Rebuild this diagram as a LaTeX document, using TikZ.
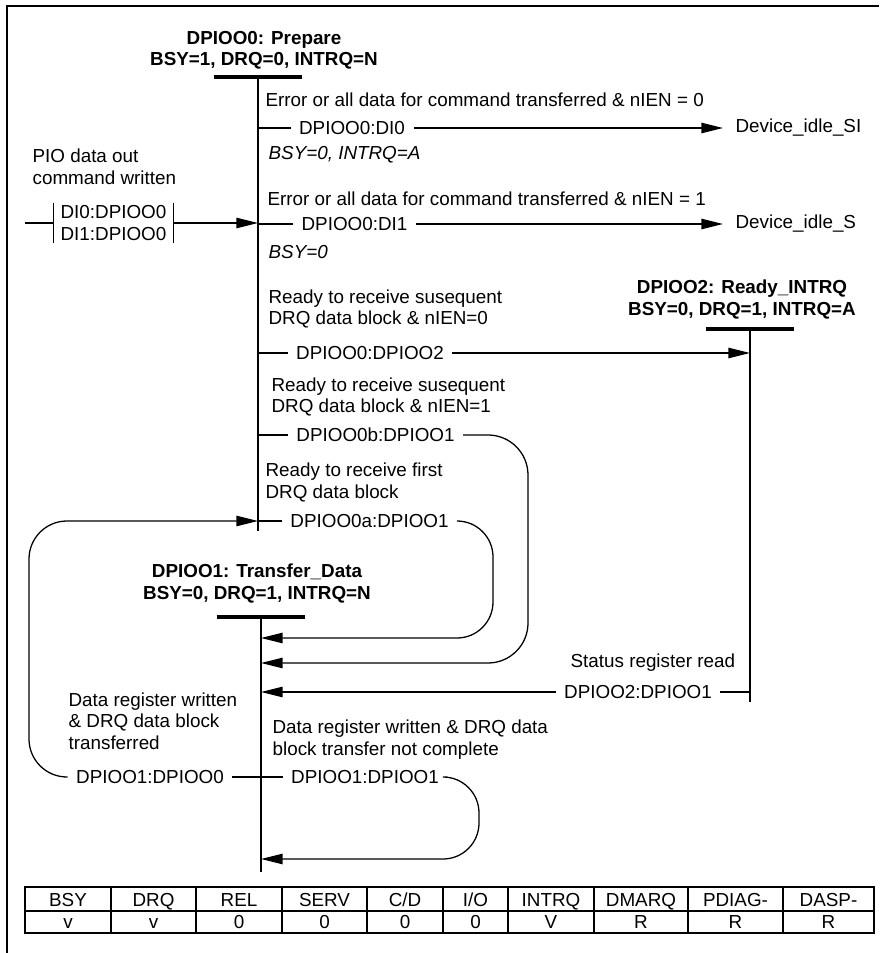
\documentclass[tikz,border=0pt]{standalone}
\usepackage{fontspec}
\setmainfont{Liberation Sans}
\usepackage{tikz}
\usetikzlibrary{arrows.meta,positioning}

\newcommand{\diagfont}{\fontsize{13.4}{15.3}\selectfont}

\begin{document}
\begin{tikzpicture}[>={Triangle[length=5.4mm,width=2.6mm]}, line width=0.9pt,
    state/.style={font=\diagfont\bfseries, align=center, inner sep=0},
    cond/.style={font=\diagfont, align=left, inner sep=0, anchor=west},
    tr/.style={font=\diagfont, inner xsep=0.2cm, inner ysep=0},
    bar/.style={line width=2.8pt}]
  \useasboundingbox (0,0) rectangle (21.975,-23.825);
  \draw[line width=1.2pt] (0.175,-23.825) -- (0.175,-0.15) -- (21.975,-0.15);

  % states
  \coordinate (p0) at (6.45,-1.925);
  \coordinate (p1) at (6.525,-15.425);
  \coordinate (p2) at (18.75,-8.225);
  \coordinate (p0e) at (6.45,-13.275);
  \coordinate (p1e) at (6.525,-21.8);
  \coordinate (p2e) at (18.75,-17.55);
  \node (prep) [state, above=0.175cm of p0, xshift=0.15cm] {DPIOO0: Prepare\\BSY=1, DRQ=0, INTRQ=N};
  \node (xfer) [state, above=0.34cm of p1, xshift=-0.1cm] {DPIOO1: Transfer\_Data\\BSY=0, DRQ=1, INTRQ=N};
  \node (rdyq) [state, above=0.24cm of p2, xshift=-0.2cm] {DPIOO2: Ready\_INTRQ\\BSY=0, DRQ=1, INTRQ=A};
  \draw[bar] ([xshift=-1.11cm]p0) -- ([xshift=1.11cm]p0);
  \draw[bar] ([xshift=-1.11cm]p1) -- ([xshift=1.11cm]p1);
  \draw[bar] ([xshift=-1.11cm]p2) -- ([xshift=1.11cm]p2);
  \draw (p0) -- (p0e);
  \draw (p1) -- (p1e);
  \draw (p2) -- (p2e);

  % entry
  \node (pio) [cond] at (0.8,-4.175) {PIO data out\\command written};
  \node (di) [font=\diagfont, align=center, inner sep=0, minimum width=2.975cm, minimum height=0.975cm] at (2.8375,-5.575) {DI0:DPIOO0\\DI1:DPIOO0};
  \coordinate (pin) at (0.625,-5.575);
  \draw (pin) -- (di.west);
  \draw (di.north west) -- (di.south west);
  \draw (di.north east) -- (di.south east);
  \draw[->] (di.east) -- (di.east -| p0);

  % DPIOO0 out
  \node (c1) [cond] at (6.625,-2.5) {Error or all data for command transferred \& nIEN = 0};
  \node (t0i0) [tr] at (8.8,-3.2) {DPIOO0:DI0};
  \node (idleSI) [cond] at (18.375,-3.2) {Device\_idle\_SI};
  \node (e1) [cond, font=\diagfont\itshape] at (6.7,-3.875) {BSY=0, INTRQ=A};
  \draw (t0i0 -| p0) -- (t0i0.west);
  \draw[->] (t0i0.east) -- ([xshift=-0.3cm]idleSI.west);

  \node (c2) [cond] at (6.675,-4.975) {Error or all data for command transferred \& nIEN = 1};
  \node (t0i1) [tr] at (8.8625,-5.6) {DPIOO0:DI1};
  \node (idleS) [cond] at (18.375,-5.6) {Device\_idle\_S};
  \node (e2) [cond, font=\diagfont\itshape] at (6.7,-6.3) {BSY=0};
  \draw (t0i1 -| p0) -- (t0i1.west);
  \draw[->] (t0i1.east) -- ([xshift=-0.3cm]idleS.west);

  \node (c3) [cond] at (6.7,-7.725) {Ready to receive susequent\\DRQ data block \& nIEN=0};
  \node (t02) [tr] at (9.25,-8.825) {DPIOO0:DPIOO2};
  \draw (t02 -| p0) -- (t02.west);
  \draw[->] (t02.east) -- (t02 -| p2);

  \node (c4) [cond] at (6.775,-9.925) {Ready to receive susequent\\DRQ data block \& nIEN=1};
  \node (t0b) [tr] at (9.3875,-10.875) {DPIOO0b:DPIOO1};
  \coordinate (lb) at (13.2,-16.575);
  \draw (t0b -| p0) -- (t0b.west);
  \draw[->, rounded corners=1cm] (t0b.east) -| (lb) -- (lb -| p1);

  \node (c5) [cond] at (6.625,-12.0625) {Ready to receive first\\DRQ data block};
  \node (t0a) [tr] at (9.2375,-13.025) {DPIOO0a:DPIOO1};
  \coordinate (la) at (12.325,-15.95);
  \draw (t0a -| p0) -- (t0a.west);
  \draw[->, rounded corners=0.9cm] (t0a.east) -| (la) -- (la -| p1);

  % DPIOO2 out
  \node (c6) [cond] at (14.25,-16.575) {Status register read};
  \node (t21) [tr] at (15.95,-17.3) {DPIOO2:DPIOO1};
  \draw (t21 -| p2) -- (t21.east);
  \draw[->] (t21.west) -- (t21 -| p1);

  % DPIOO1 out
  \node (c7) [cond] at (1.7,-18.025) {Data register written\\\& DRQ data block\\transferred};
  \node (t10) [tr] at (3.75,-19.425) {DPIOO1:DPIOO0};
  \coordinate (ll) at (0.725,-13.025);
  \draw (t10 -| p1) -- (t10.east);
  \draw[->, rounded corners=0.95cm] (t10.west) -| (ll) -- (ll -| p0);

  \node (c8) [cond] at (6.8,-18.4875) {Data register written \& DRQ data\\block transfer not complete};
  \node (t11) [tr] at (9.125,-19.425) {DPIOO1:DPIOO1};
  \coordinate (ls) at (11.975,-21.475);
  \draw (t11 -| p1) -- (t11.west);
  \draw[->, rounded corners=0.9cm] (t11.east) -| (ls) -- (ls -| p1);

  % status table
  \foreach \xa/\xb/\hd/\vl [count=\i] in {0.625/2.775/BSY/v, 2.775/4.9/DRQ/v, 4.9/7.05/REL/0, 7.05/9.175/SERV/0, 9.175/11.075/{C/D}/0, 11.075/12.7/{I/O}/0, 12.7/14.85/INTRQ/V, 14.85/17.2/DMARQ/R, 17.2/19.575/PDIAG-/R, 19.575/21.85/DASP-/R}{
    \draw (\xb,-22.175) -- (\xb,-23.325);
    \node (h\i) [font=\diagfont, anchor=base] at ({(\xa+\xb)/2},-22.66) {\hd};
    \node (v\i) [font=\diagfont, anchor=base] at ({(\xa+\xb)/2},-23.21) {\vl};
  }
  \draw (0.625,-22.775) -- (21.85,-22.775);
  \draw[line width=1.3pt] (0.625,-22.175) rectangle (21.85,-23.325);
\end{tikzpicture}
\end{document}
